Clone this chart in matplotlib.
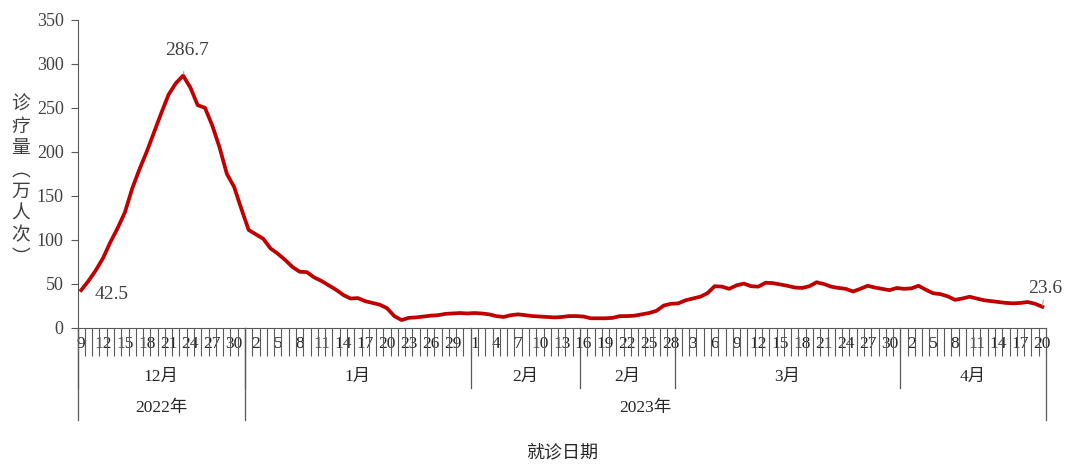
import matplotlib
matplotlib.use('Agg')
import matplotlib.pyplot as plt
import matplotlib.transforms as mtransforms
import numpy as np
import pandas as pd

plt.rcParams['font.family'] = ['Liberation Serif', 'Noto Sans CJK SC', 'DejaVu Sans']

# daily visits (10k person-times), 2022-12-09 .. 2023-04-20
dec_vals = [42.5, 53, 65, 79, 97, 113, 131, 158, 180, 200, 222, 244, 265, 278, 286.7,
            273, 253, 250, 230, 205, 175, 160, 135]
jan_vals = [111, 106, 101, 90, 84, 77, 69, 63.5, 63, 57, 53, 48, 43, 37, 33, 33.5,
            30, 28, 26, 22, 13, 8.5, 11, 11.5, 12.5, 13.5, 14, 15.5, 16, 16.5, 16]
feb_vals = [16.5, 16, 15, 13, 12, 14, 15, 14, 13, 12.5, 12, 11.5, 12, 13, 13, 12.5,
            10.5, 10.5, 10.5, 11, 13, 13, 13.5, 15, 16.5, 19, 25, 27]
mar_vals = [27.5, 31, 33, 35, 39, 47, 46.5, 44, 48, 50, 47, 46.5, 51, 50.5, 49, 47.5,
            45.5, 45, 47, 51.5, 49.5, 46.5, 45, 44, 41, 44, 47.5, 45.5, 44, 42.5, 45]
apr_vals = [44, 44.5, 47.5, 43, 39, 38, 35.5, 31.5, 33, 35, 33, 31, 30, 29, 28, 27.5,
            28, 29, 27, 23.6]

values = dec_vals + jan_vals + feb_vals + mar_vals + apr_vals
dates = pd.date_range('2022-12-09', '2023-04-20', freq='D')

# month groups on the axis (the source splits February in two)
month_labels = ['12月', '1月', '2月', '2月', '3月', '4月']
month_starts = ['2022-12-09', '2023-01-01', '2023-02-01', '2023-02-16', '2023-03-01', '2023-04-01']
year_labels = ['2022年', '2023年']
year_starts = ['2022-12-09', '2023-01-01']

annotations = {'2022-12-09': 42.5, '2022-12-23': 286.7, '2023-04-20': 23.6}

x = np.arange(len(values))
n = len(values)

fig = plt.figure(figsize=(10.8, 4.75), dpi=100)
ax = fig.add_axes([0.0718, 0.3105, 0.8967, 0.6475])

ax.plot(x, values, color='#C00000', lw=2.7, solid_joinstyle='round', zorder=3)

ax.set_xlim(-0.5, n - 0.5)
ax.set_ylim(0, 350)
ax.set_yticks(np.arange(0, 351, 50))
ax.tick_params(axis='y', labelsize=13, length=5, color='#595959', labelcolor='#404040', pad=5)

# day labels every 3 days, tick marks between days
ax.set_xticks(x[::3])
ax.set_xticklabels([str(d.day) for d in dates[::3]])
ax.set_xticks(np.arange(0.5, n - 0.5, 1), minor=True)
ax.tick_params(axis='x', which='major', length=0, labelsize=12.5, pad=6, labelcolor='#262626')
ax.tick_params(axis='x', which='minor', length=20.5, color='#595959', width=0.8)

for s in ['top', 'right']:
    ax.spines[s].set_visible(False)
for s in ['left', 'bottom']:
    ax.spines[s].set_color('#595959')

trans = mtransforms.blended_transform_factory(ax.transData, ax.transAxes)

# month separators and labels
m_idx = [dates.get_loc(pd.Timestamp(d)) for d in month_starts] + [n]
for i, lab in enumerate(month_labels):
    left = m_idx[i] - 0.5
    ax.plot([left, left], [0, -0.197], transform=trans, color='#595959', lw=0.9, clip_on=False)
    ax.text((m_idx[i] + m_idx[i + 1] - 1) / 2, -0.161, lab, transform=trans,
            ha='center', va='center', fontsize=12.5, color='#262626')

# year separators and labels
y_idx = [dates.get_loc(pd.Timestamp(d)) for d in year_starts] + [n]
for i, lab in enumerate(year_labels):
    left = y_idx[i] - 0.5
    ax.plot([left, left], [0, -0.301], transform=trans, color='#595959', lw=0.9, clip_on=False)
    ax.text((y_idx[i] + y_idx[i + 1] - 1) / 2, -0.262, lab, transform=trans,
            ha='center', va='center', fontsize=12.5, color='#262626')
ax.plot([n - 0.5, n - 0.5], [0, -0.301], transform=trans, color='#595959', lw=0.9, clip_on=False)

ax.text(0.5, -0.405, '就诊日期', transform=ax.transAxes, ha='center', va='center',
        fontsize=13, color='#262626', family=['Noto Sans CJK SC'])

# y label: upright stacked characters
fig.text(0.019, 0.62, '诊\n疗\n量\n︵\n万\n人\n次\n︶', ha='center', va='center',
         fontsize=13.5, color='#404040', linespacing=1.05, family=['Noto Sans CJK SC'])

# data labels
pos = {k: dates.get_loc(pd.Timestamp(k)) for k in annotations}
k0, k1, k2 = list(annotations)
ax.annotate(f'{annotations[k0]}', (pos[k0], annotations[k0]), xytext=(22, -3),
            textcoords='offset points', ha='center', va='center', fontsize=14, color='#404040')
ax.annotate(f'{annotations[k1]}', (pos[k1], annotations[k1]), xytext=(3, 18),
            textcoords='offset points', ha='center', va='center', fontsize=14, color='#404040',
            arrowprops=dict(arrowstyle='-', color='#a6a6a6', lw=0.8, shrinkA=7, shrinkB=1))
ax.annotate(f'{annotations[k2]}', (pos[k2], annotations[k2]), xytext=(2, 13),
            textcoords='offset points', ha='center', va='center', fontsize=14, color='#404040',
            arrowprops=dict(arrowstyle='-', color='#a6a6a6', lw=0.8, shrinkA=7, shrinkB=1))

fig.savefig('out.png', dpi=100, facecolor='white')
